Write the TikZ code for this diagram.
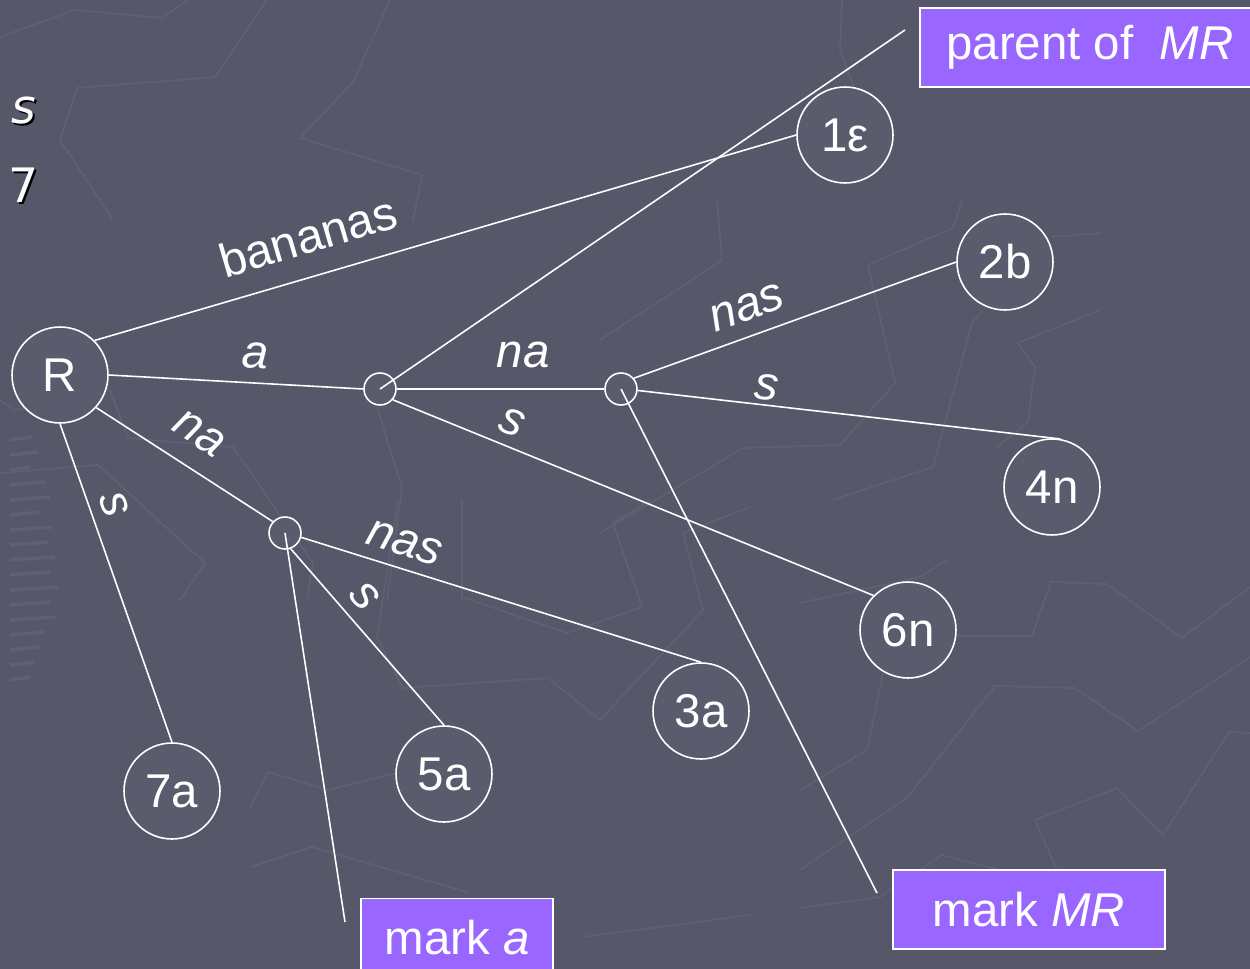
\documentclass[tikz,border=0pt]{standalone}
\usepackage{fontspec}
\setmainfont{Liberation Sans}
\newfontfamily\slidefont{DejaVu Sans}
\usepackage{tikz}
\usetikzlibrary{
  positioning
}
\definecolor{slidebg}{HTML}{565869}
\definecolor{nodebg}{HTML}{5A5C6D}
\definecolor{faint}{HTML}{5E6073}
\definecolor{noteviolet}{HTML}{9966FF}
\tikzset{
  edgeline/.style={white, line width=0.9pt},
  leaf/.style={circle, draw=white, line width=0.9pt, fill=nodebg, text=white,
    minimum size=1.92cm, inner sep=0pt, font=\fontsize{27}{32}\selectfont},
  inner/.style={circle, draw=white, line width=0.9pt, fill=nodebg,
    minimum size=0.64cm, inner sep=0pt},
  lab/.style={text=white, sloped, inner sep=0.25em, font=\fontsize{27}{32}\selectfont},
  note/.style={rectangle, draw=white, line width=1pt, fill=noteviolet, text=white,
    minimum height=1.58cm, inner sep=0pt, font=\fontsize{27}{32}\selectfont},
  frag/.style={text=white, inner sep=0pt, font=\slidefont\fontsize{27}{32}\selectfont},
  backline/.style={faint, line width=1pt}
}

\begin{document}
\begin{tikzpicture}[x=0.02cm, y=-0.02cm]
    \fill[slidebg] (0,0) rectangle (1250,969);
    \useasboundingbox (0,0) rectangle (1250,969);
    \clip (0,0) rectangle (1250,969);

    % faint background pattern
    \draw[backline] (0,37) -- (75,10) -- (163,18) -- (187,0);
    \draw[backline] (113,220) -- (60,140) -- (77,88) -- (215,77) -- (267,0);
    \draw[backline] (390,0) -- (353,82) -- (300,138) -- (422,175) -- (413,220);
    \draw[backline] (842,0) -- (840,50) -- (855,90);
    \draw[backline] (717,200) -- (722,260) -- (600,340);
    \draw[backline] (962,200) -- (953,228) -- (868,265) -- (895,383) -- (840,445) -- (743,448) -- (600,533);
    \draw[backline] (983,310) -- (972,323) -- (933,467) -- (833,500);
    \draw[backline] (1052,237) -- (1100,233);
    \draw[backline] (1100,310) -- (1018,343) -- (1035,367) -- (1028,422) -- (997,447);
    \draw[backline] (0,400) -- (13,410) -- (100,400);
    \draw[backline] (110,390) -- (128,438) -- (233,447) -- (313,563) -- (307,600);
    \draw[backline] (377,407) -- (402,488) -- (387,600);
    \draw[backline] (0,473) -- (98,465) -- (205,563) -- (180,600);
    \draw[backline] (398,500) -- (377,637) -- (403,688) -- (548,678) -- (600,720) -- (703,610) -- (683,533) -- (750,507);
    \draw[backline] (462,500) -- (462,597) -- (567,633) -- (642,607) -- (613,523) -- (650,500);
    \draw[backline] (250,807) -- (268,772) -- (328,790) -- (397,773);
    \draw[backline] (250,867) -- (312,847) -- (470,893);
    \draw[backline] (583,937) -- (750,915);
    \draw[backline] (800,603) -- (920,577) -- (947,560);
    \draw[backline] (957,636) -- (1032,636) -- (1051,582) -- (1107,584) -- (1182,638) -- (1250,587);
    \draw[backline] (800,790) -- (867,750) -- (883,673);
    \draw[backline] (800,870) -- (907,798) -- (995,686) -- (1075,688) -- (1138,731) -- (1250,657);
    \draw[backline] (1057,870) -- (1035,820) -- (1117,788) -- (1163,835) -- (1229,732) -- (1250,733);
    \draw[backline] (800,908) -- (880,897) -- (942,855) -- (1000,870);
    \foreach \yy/\ww in {440/22, 455/28, 470/20, 485/35, 500/40, 515/30, 530/42, 545/38,
        560/45, 575/40, 590/48, 605/40, 620/45, 635/35, 650/30, 665/25, 680/20}
      \draw[backline, line width=2pt] (10,\yy) -- ++(\ww,-3);

    % slide text at the left edge
    \node[frag, text=black] (sshadow) at (26,113) {\itshape s};
    \node[frag] (sfrag) at (24,111) {\itshape s};
    \node[frag, text=black] (sevenshadow) at (26,187) {7};
    \node[frag] (sevenfrag) at (24,185) {7};

    % tree nodes
    \node[leaf] (r) at (60,375) {R};
    \node[leaf] (n1) at (845,135) {1ε};
    \node[leaf] (n2) at (1005,262) {2b};
    \node[leaf] (n4) at (1052,487) {4n};
    \node[leaf] (n6) at (908,630) {6n};
    \node[leaf] (n3) at (701,711) {3a};
    \node[leaf] (n5) at (444,774) {5a};
    \node[leaf] (n7) at (172,791) {7a};
    \node[inner] (u1) at (380,389) {};
    \node[inner] (u2) at (621,389) {};
    \node[inner] (u3) at (285,533) {};

    % edges
    \draw[edgeline] (r.45) -- node[lab, above=10pt, pos=0.32] {bananas} (n1.west);
    \draw[edgeline] (r.east) -- node[lab, above=5pt, pos=0.57] {\textit{a}} (u1.west);
    \draw[edgeline] (r.-42) -- node[lab, above=9pt, pos=0.48] {\textit{na}} (u3.137);
    \draw[edgeline] (r.south) -- node[lab, above=3.5pt, pos=0.28] {\textit{s}} (n7.north);
    \draw[edgeline] (u1.east) -- node[lab, above=9pt, pos=0.61] {\textit{na}} (u2.west);
    \draw[edgeline] (u1.-40) -- node[lab, above=3.5pt, pos=0.23] {\textit{s}} (n6.135);
    \draw[edgeline] (u2.40) -- node[lab, above=5.5pt, pos=0.38] {\textit{nas}} (n2.west);
    \draw[edgeline] (u2.-5) -- node[lab, above, pos=0.30] {\textit{s}} (n4.80);
    \draw[edgeline] (u3.-15) -- node[lab, above=4pt, pos=0.24] {\textit{nas}} (n3.north);
    \draw[edgeline] (u3.-70) -- node[lab, above=3.5pt, pos=0.36] {\textit{s}} (n5.north);

    % notes
    \node[note, minimum width=6.8cm] (parentnote) at (1090,47.5) {parent of\ \ \textit{MR}};
    \node[note, minimum width=3.84cm] (marka) at (457,938) {mark \textit{a}};
    \node[note, minimum width=5.44cm] (markmr) at (1029,909.5) {mark \textit{MR}};
    \coordinate (parentend) at (905,30);
    \coordinate (markaend) at (345,922);
    \coordinate (markmrend) at (877,893);
    \draw[edgeline] (u1.center) -- (parentend);
    \draw[edgeline] (u3.center) -- (markaend);
    \draw[edgeline] (u2.center) -- (markmrend);
\end{tikzpicture}
\end{document}
